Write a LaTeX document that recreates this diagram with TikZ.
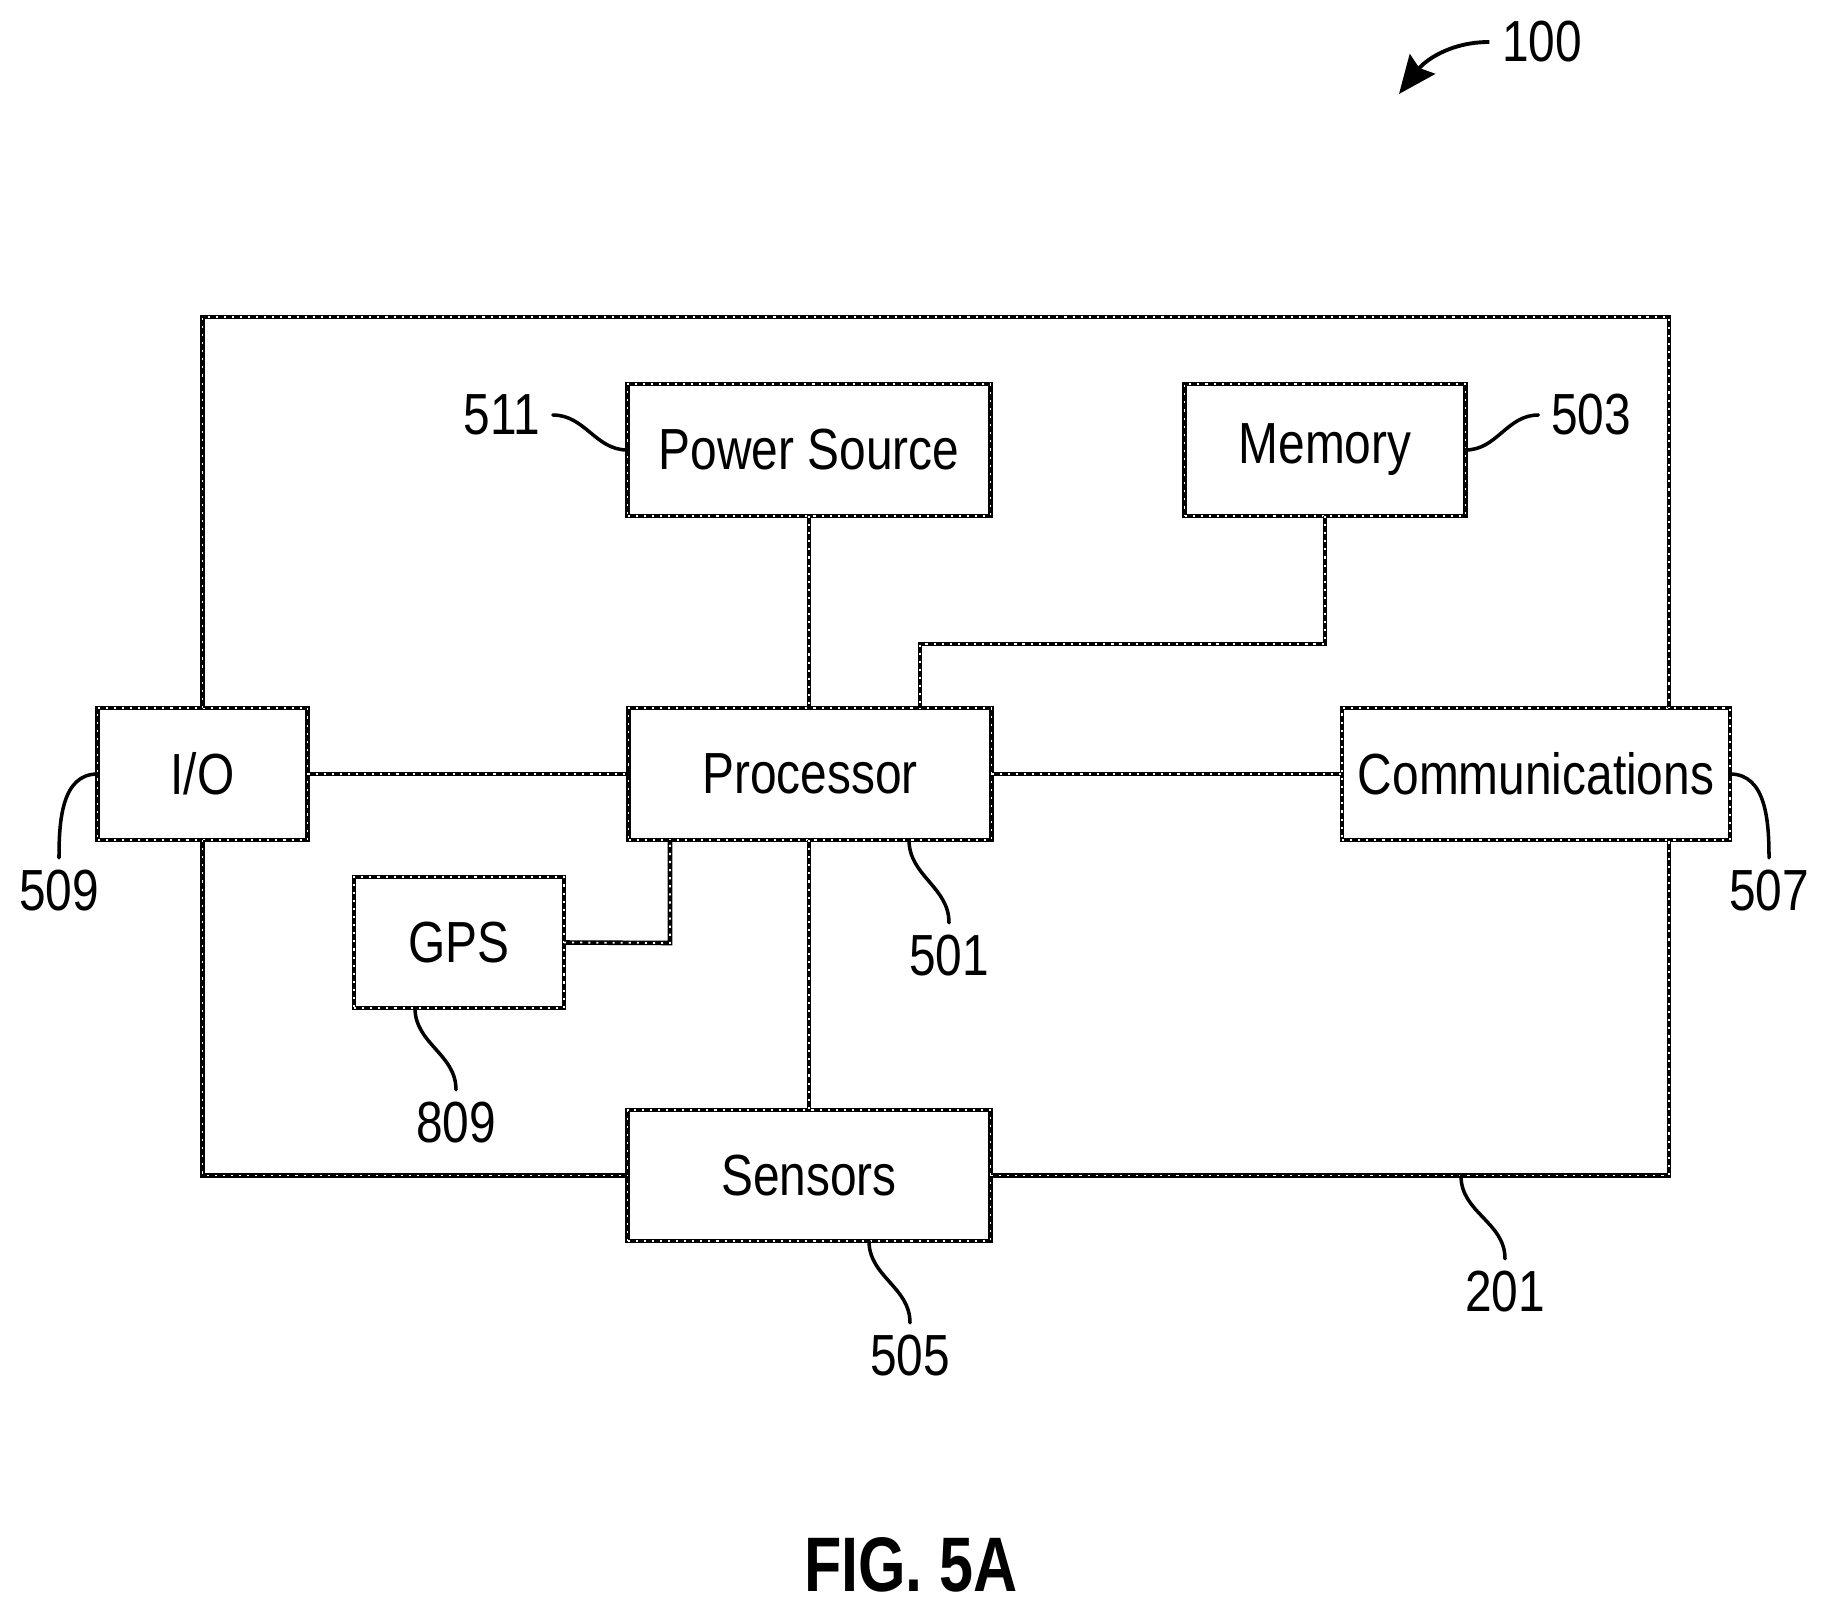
\documentclass[tikz,border=0pt]{standalone}
\usepackage{fontspec}
\setmainfont[FakeStretch=0.825]{Liberation Sans}
\newfontfamily\figfont[FakeStretch=0.79]{Liberation Sans}
\usetikzlibrary{arrows.meta}
\tikzset{
    halftone/.style={draw=black,line width=1.3pt,postaction={draw=white,line width=0.5pt,dash pattern=on 0.6pt off 1.7pt}},
    blockbox/.style={halftone,outer sep=0pt,inner sep=0pt,font=\fontsize{16.5}{18}\selectfont},
    refnum/.style={inner sep=0.12cm,font=\fontsize{16.5}{18}\selectfont},
    leader/.style={line width=1pt,line cap=round}
}
\begin{document}
\begin{tikzpicture}[x=1cm,y=-1cm]
    \useasboundingbox (0,0) rectangle (18.27,16.11);
    % blocks
    \node[blockbox,minimum width=3.63cm,minimum height=1.32cm] (power) at (8.09,4.50) {Power Source};
    \node[blockbox,minimum width=2.81cm,minimum height=1.32cm] (memory) at (13.25,4.50) {Memory};
    \node[blockbox,minimum width=3.63cm,minimum height=1.32cm] (proc) at (8.10,7.74) {Processor};
    \node[blockbox,minimum width=2.10cm,minimum height=1.32cm] (io) at (2.025,7.74) {I/O};
    \node[blockbox,minimum width=3.88cm,minimum height=1.32cm] (comm) at (15.36,7.74) {Communications};
    \node[blockbox,minimum width=2.10cm,minimum height=1.31cm] (gps) at (4.59,9.425) {GPS};
    \node[blockbox,minimum width=3.63cm,minimum height=1.31cm] (sensors) at (8.09,11.755) {Sensors};
    % outer frame
    \coordinate (frameTL) at (2.025,3.17);
    \coordinate (frameTR) at (16.69,3.17);
    \draw[halftone] (io.north) -- (frameTL) -- (frameTR) -- (frameTR |- comm.north);
    \draw[halftone] (io.south) |- (sensors.west);
    \draw[halftone] (sensors.east) -| (frameTR |- comm.south);
    % links
    \draw[halftone] (power.south) -- (power.south |- proc.north);
    \coordinate (memBend) at (9.20,6.44);
    \draw[halftone] (memory.south) |- (memBend) -- (memBend |- proc.north);
    \draw[halftone] (io.east) -- (proc.west);
    \draw[halftone] (proc.east) -- (comm.west);
    \coordinate (gpsBend) at (6.70,9.43);
    \draw[halftone] (gps.east) -- (gpsBend) -- (gpsBend |- proc.south);
    \draw[halftone] (power.south |- proc.south) -- (sensors.north);
    % reference numbers
    \node[refnum] (n100) at (15.42,0.42) {100};
    \node[refnum] (n511) at (5.02,4.15) {511};
    \node[refnum] (n503) at (15.91,4.15) {503};
    \node[refnum] (n509) at (0.59,8.91) {509};
    \node[refnum] (n507) at (17.69,8.91) {507};
    \node[refnum] (n501) at (9.49,9.56) {501};
    \node[refnum] (n809) at (4.56,11.23) {809};
    \node[refnum] (n505) at (9.10,13.56) {505};
    \node[refnum] (n201) at (15.05,12.92) {201};
    \node[font=\figfont\bfseries\fontsize{22}{24}\selectfont] (title) at (9.11,15.65) {FIG. 5A};
    % leaders
    \draw[leader] (n511.east) to[out=0,in=180] (power.west);
    \draw[leader] (n503.west) to[out=180,in=0] (memory.east);
    \draw[leader] (n509.north) to[out=90,in=180] (io.west);
    \draw[leader] (n507.north) to[out=90,in=0] (comm.east);
    \draw[leader] ([xshift=0.99cm]proc.south) to[out=-90,in=90] (n501.north);
    \draw[leader] ([xshift=-0.44cm]gps.south) to[out=-90,in=90] (n809.north);
    \draw[leader] ([xshift=0.6cm]sensors.south) to[out=-90,in=90] (n505.north);
    \draw[leader] (14.61,11.76) to[out=-90,in=90] (n201.north);
    \draw[line width=1.1pt,-{Stealth[length=0.38cm,width=0.32cm,inset=0.05cm]}] (n100.west) to[out=180,in=52] (13.99,0.94);
\end{tikzpicture}
\end{document}
